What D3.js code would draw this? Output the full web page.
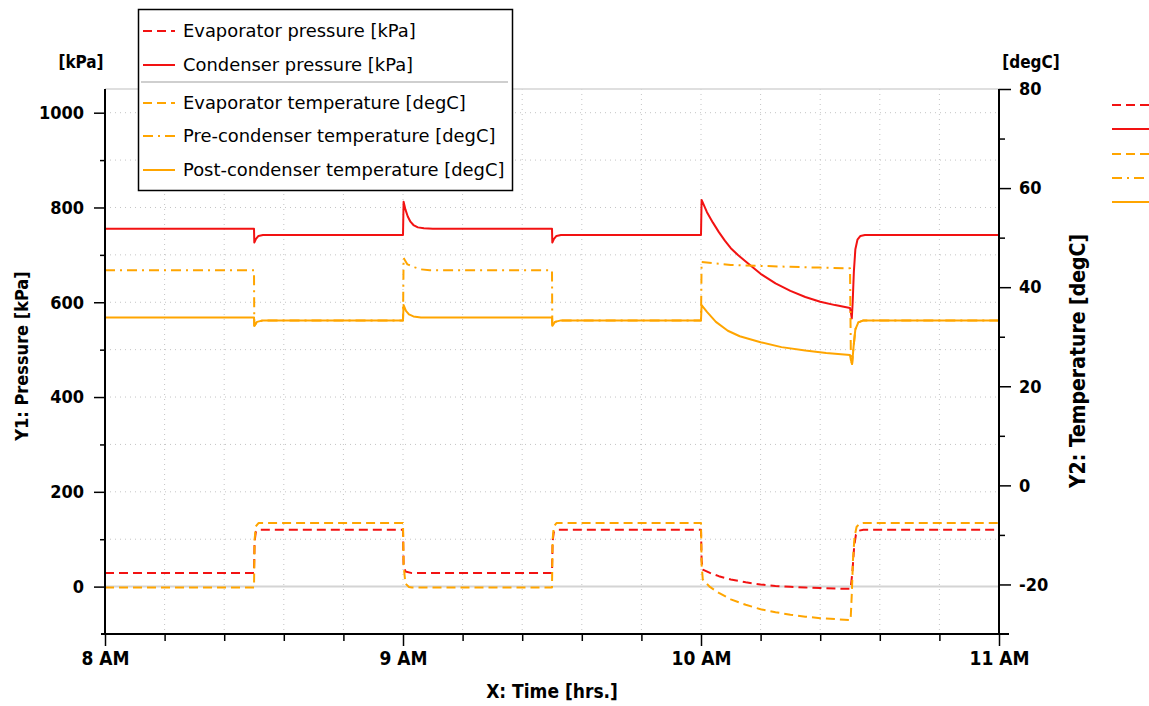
<!DOCTYPE html>
<html><head><meta charset="utf-8">
<script src="https://cdn.jsdelivr.net/npm/d3@7"></script>
<style>
html,body{margin:0;padding:0;background:#fff;}
svg{display:block;}
.tk{font-family:"DejaVu Sans Condensed","DejaVu Sans",sans-serif;font-weight:bold;font-stretch:condensed;font-size:18px;fill:#000;}
.lg{font-family:"DejaVu Sans",sans-serif;font-size:17.9px;fill:#000;}
</style>
</head><body>
<svg id="c" width="1149" height="706"></svg>
<script>
// ---- data ----
const timeTicks = [8, 9, 10, 11];
const timeLabels = ["8 AM", "9 AM", "10 AM", "11 AM"];
const pressureTicks = [0, 200, 400, 600, 800, 1000];
const tempTicks = [-20, 0, 20, 40, 60, 80];

const evapPressure = [[8.0,28.5],[8.5,28.5],[8.502,95],[8.506,115],[8.515,120],[9.0,120],[9.002,45],[9.008,32],[9.03,28.5],[9.5,28.5],[9.502,95],[9.506,115],[9.515,120],[10.0,120],[10.002,55],[10.006,36],[10.03,29],[10.06,22],[10.1,15],[10.15,9],[10.2,4.5],[10.25,1.5],[10.3,-0.5],[10.35,-2],[10.4,-3],[10.45,-4],[10.502,-4.8],[10.508,30],[10.514,85],[10.52,110],[10.53,118],[10.545,120],[11.0,120]];
const condPressure = [[8.0,755],[8.5,755],[8.501,726],[8.506,733],[8.515,740],[8.53,742],[9.0,742],[9.002,812],[9.008,796],[9.016,781],[9.025,770],[9.035,763],[9.05,758],[9.07,756],[9.1,755],[9.5,755],[9.501,726],[9.506,733],[9.515,740],[9.53,742],[10.0,742],[10.002,816],[10.02,790],[10.04,768],[10.06,748],[10.08,730],[10.1,714],[10.125,699],[10.15,686],[10.2,660],[10.25,640],[10.3,624],[10.35,611],[10.4,601],[10.45,594],[10.5,588],[10.503,578],[10.506,566],[10.509,600],[10.513,665],[10.518,712],[10.525,732],[10.535,740],[10.55,742],[11.0,742]];
const evapTemp = [[8.0,-20.6],[8.5,-20.6],[8.502,-11],[8.506,-8.3],[8.515,-7.6],[9.0,-7.6],[9.002,-16],[9.008,-19.8],[9.02,-20.5],[9.03,-20.6],[9.5,-20.6],[9.502,-11],[9.506,-8.3],[9.515,-7.6],[10.0,-7.6],[10.002,-16],[10.006,-19],[10.03,-20.5],[10.06,-21.7],[10.1,-23.0],[10.15,-24.1],[10.2,-25.0],[10.25,-25.6],[10.3,-26.1],[10.35,-26.5],[10.4,-26.8],[10.45,-27.0],[10.502,-27.2],[10.506,-22],[10.51,-15],[10.515,-10.5],[10.522,-8.4],[10.532,-7.7],[10.545,-7.6],[11.0,-7.6]];
const preCondTemp = [[8.0,43.4],[8.5,43.4],[8.501,32.2],[8.51,33.0],[8.53,33.3],[9.0,33.3],[9.002,45.9],[9.008,45.3],[9.015,44.6],[9.025,44.4],[9.04,44.0],[9.06,43.6],[9.09,43.4],[9.5,43.4],[9.501,32.2],[9.51,33.0],[9.53,33.3],[10.0,33.3],[10.002,45.1],[10.1,44.5],[10.2,44.3],[10.3,44.1],[10.4,43.95],[10.5,43.8],[10.503,25.3],[10.507,24.5],[10.512,28],[10.518,31.5],[10.528,32.9],[10.545,33.3],[11.0,33.3]];
const postCondTemp = [[8.0,33.9],[8.5,33.9],[8.501,32.2],[8.51,33.0],[8.53,33.3],[9.0,33.3],[9.002,36.4],[9.01,35.2],[9.02,34.5],[9.035,34.1],[9.06,33.9],[9.5,33.9],[9.501,32.2],[9.51,33.0],[9.53,33.3],[10.0,33.3],[10.002,36.4],[10.02,35.0],[10.05,33.0],[10.09,31.2],[10.13,30.1],[10.2,28.9],[10.27,27.9],[10.35,27.2],[10.42,26.7],[10.5,26.3],[10.503,25.3],[10.507,24.5],[10.512,28],[10.518,31.5],[10.528,32.9],[10.545,33.3],[11.0,33.3]];

const seriesNames = ["Evaporator pressure [kPa]","Condenser pressure [kPa]","Evaporator temperature [degC]","Pre-condenser temperature [degC]","Post-condenser temperature [degC]"];

// ---- layout ----
const svg = d3.select("#c");
const L = 105, R = 999, T = 89, B = 634;
const RED = "#f21212", ORG = "#ffa500";
const x = d3.scaleLinear().domain([8, 11]).range([L, R]);
const y1 = d3.scaleLinear().domain([-100, 1050]).range([B, T]);
const y2 = d3.scaleLinear().domain([-30, 80]).range([B, T]);

const series = [
  {name: seriesNames[0], data: evapPressure, y: y1, color: RED, dash: "9,5"},
  {name: seriesNames[1], data: condPressure, y: y1, color: RED, dash: null},
  {name: seriesNames[2], data: evapTemp, y: y2, color: ORG, dash: "9,5"},
  {name: seriesNames[3], data: preCondTemp, y: y2, color: ORG, dash: "10,5,2,5"},
  {name: seriesNames[4], data: postCondTemp, y: y2, color: ORG, dash: null}
];

// grid
const grid = svg.append("g");
const minorTimes = d3.range(1, 15).map(i => 8 + i * 0.2);
grid.selectAll("line.v").data(minorTimes).join("line")
  .attr("x1", d => x(d)).attr("x2", d => x(d)).attr("y1", T).attr("y2", B)
  .attr("stroke", "#c4c4c4").attr("stroke-width", 1).attr("stroke-dasharray", "1,4");
const gridP = d3.range(100, 1001, 100);
grid.selectAll("line.h").data(gridP).join("line")
  .attr("x1", L).attr("x2", R).attr("y1", d => y1(d)).attr("y2", d => y1(d))
  .attr("stroke", "#c4c4c4").attr("stroke-width", 1).attr("stroke-dasharray", "1,4");
grid.append("line").attr("x1", L).attr("x2", R).attr("y1", y1(0)).attr("y2", y1(0))
  .attr("stroke", "#d4d4d4").attr("stroke-width", 2);
grid.append("line").attr("x1", L).attr("x2", R).attr("y1", T).attr("y2", T)
  .attr("stroke", "#d4d4d4").attr("stroke-width", 1.5);

// clip
svg.append("clipPath").attr("id", "pc").append("rect")
  .attr("x", L).attr("y", T - 2).attr("width", R - L).attr("height", B - T + 2);

const lines = svg.append("g").attr("clip-path", "url(#pc)");
series.forEach(s => {
  const gen = d3.line().x(d => x(d[0])).y(d => s.y(d[1]));
  lines.append("path").datum(s.data).attr("d", gen)
    .attr("fill", "none").attr("stroke", s.color).attr("stroke-width", 2)
    .attr("stroke-dasharray", s.dash).attr("stroke-linejoin", "round");
});

// axes
function styleAxis(g) {
  g.select(".domain").remove();
  g.selectAll(".tick line").attr("stroke", "#000").attr("stroke-width", 1.5);
  g.selectAll(".tick text").attr("class", "tk");
}
const plain = d => String(d);
const axL = svg.append("g").attr("transform", `translate(${L},0)`)
  .call(d3.axisLeft(y1).tickValues(pressureTicks).tickSize(11).tickPadding(10).tickFormat(plain));
styleAxis(axL);
const axLm = svg.append("g").attr("transform", `translate(${L},0)`)
  .call(d3.axisLeft(y1).tickValues(d3.range(100, 1000, 200)).tickSize(5).tickFormat(""));
styleAxis(axLm);
const axR = svg.append("g").attr("transform", `translate(${R},0)`)
  .call(d3.axisRight(y2).tickValues(tempTicks).tickSize(12).tickPadding(8).tickFormat(plain));
styleAxis(axR);
const axRm = svg.append("g").attr("transform", `translate(${R},0)`)
  .call(d3.axisRight(y2).tickValues([-10, 10, 30, 50, 70]).tickSize(6).tickFormat(""));
styleAxis(axRm);
const axB = svg.append("g").attr("transform", `translate(0,${B})`)
  .call(d3.axisBottom(x).tickValues(timeTicks).tickSize(12).tickPadding(6)
    .tickFormat((d, i) => timeLabels[i]));
styleAxis(axB);
axB.selectAll(".tick text").style("font-size", "19px");
const axBm = svg.append("g").attr("transform", `translate(0,${B})`)
  .call(d3.axisBottom(x).tickValues(minorTimes.filter(t => Math.abs(t - Math.round(t)) > 1e-6)).tickSize(7).tickFormat(""));
styleAxis(axBm);

// axis lines
svg.append("line").attr("x1", L).attr("x2", L).attr("y1", T).attr("y2", B).attr("stroke", "#000").attr("stroke-width", 2);
svg.append("line").attr("x1", R).attr("x2", R).attr("y1", T).attr("y2", B).attr("stroke", "#000").attr("stroke-width", 2);
svg.append("line").attr("x1", L - 4).attr("x2", R + 10).attr("y1", B).attr("y2", B).attr("stroke", "#000").attr("stroke-width", 2);

// titles
svg.append("text").attr("class", "tk").attr("x", 81).attr("y", 68).attr("text-anchor", "middle").style("font-size", "17px").text("[kPa]");
svg.append("text").attr("class", "tk").attr("x", 1031).attr("y", 68).attr("text-anchor", "middle").style("font-size", "17px").text("[degC]");
svg.append("text").attr("class", "tk").attr("transform", "translate(28,356) rotate(-90)").attr("text-anchor", "middle").text("Y1: Pressure [kPa]");
svg.append("text").attr("class", "tk").attr("transform", "translate(1085,361) rotate(-90)").attr("text-anchor", "middle").style("font-size", "21px").text("Y2: Temperature [degC]");
svg.append("text").attr("class", "tk").attr("x", 552).attr("y", 698).attr("text-anchor", "middle").style("font-size", "19px").text("X: Time [hrs.]");

// legend box
const lg = svg.append("g");
lg.append("rect").attr("x", 138.5).attr("y", 9.5).attr("width", 374).attr("height", 181)
  .attr("fill", "#fff").attr("stroke", "#000").attr("stroke-width", 1.5);
const rowsY = [31, 65, 103, 136, 170];
series.forEach((s, i) => {
  lg.append("line").attr("x1", 143).attr("x2", 175).attr("y1", rowsY[i]).attr("y2", rowsY[i])
    .attr("stroke", s.color).attr("stroke-width", 2).attr("stroke-dasharray", s.dash);
  lg.append("text").attr("class", "lg").attr("x", 183).attr("y", rowsY[i] + 6).text(s.name);
});
lg.append("line").attr("x1", 141).attr("x2", 508).attr("y1", 82).attr("y2", 82).attr("stroke", "#a0a0a0").attr("stroke-width", 1.2);

// right mini legend
const mini = [105, 129, 154, 178, 202];
series.forEach((s, i) => {
  svg.append("line").attr("x1", 1112).attr("x2", 1150).attr("y1", mini[i]).attr("y2", mini[i])
    .attr("stroke", s.color).attr("stroke-width", 2).attr("stroke-dasharray", s.dash);
});
</script>
</body></html>
